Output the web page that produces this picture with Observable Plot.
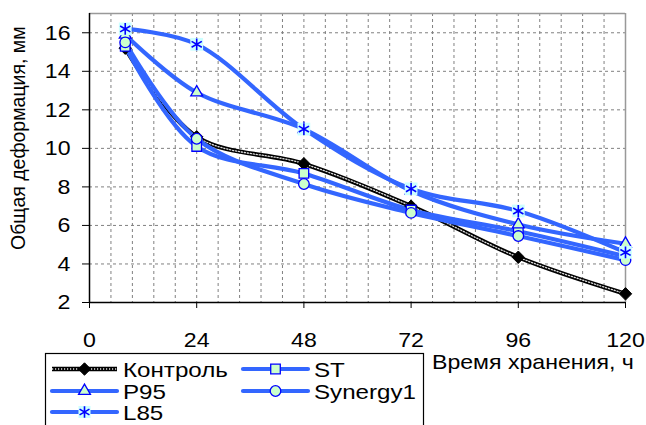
<!DOCTYPE html>
<html>
<head>
<meta charset="utf-8">
<script src="https://cdn.jsdelivr.net/npm/d3@7"></script>
<script src="https://cdn.jsdelivr.net/npm/@observablehq/plot@0.6"></script>
<style>
  html, body { margin: 0; padding: 0; background: #fff; }
  #chart { width: 646px; height: 425px; overflow: hidden; }
</style>
</head>
<body>
<div id="chart"></div>
<script>
// ---- data ----
const hours = [8, 24, 48, 72, 96, 120];
const control = [15.2, 10.6, 9.2, 7.0, 4.35, 2.45];
const st = [15.3, 10.1, 8.7, 6.8, 5.7, 4.4];
const p95 = [15.9, 12.9, 11.0, 7.8, 6.05, 5.05];
const synergy1 = [15.5, 10.5, 8.15, 6.65, 5.45, 4.2];
const l85 = [16.2, 15.4, 11.0, 7.9, 6.75, 4.6];
const seriesNames = ["Контроль", "ST", "P95", "Synergy1", "L85"];
const xTicks = [0, 24, 48, 72, 96, 120];
const yTicks = [2, 4, 6, 8, 10, 12, 14, 16];
const xGrid = [4.8, 9.6, 14.4, 19.2, 24, 28.8, 33.6, 38.4, 43.2, 48, 52.8, 57.6, 62.4, 67.2, 72, 76.8, 81.6, 86.4, 91.2, 96, 100.8, 105.6, 110.4, 115.2];
const yGrid = [4, 6, 8, 10, 12, 14, 16];
const xTitle = "Время хранения, ч";
const yTitle = "Общая деформация, мм";

const valuesBySeries = {"Контроль": control, "ST": st, "P95": p95, "Synergy1": synergy1, "L85": l85};
const rows = seriesNames.flatMap(s => hours.map((h, i) => ({series: s, x: h, y: valuesBySeries[s][i]})));
const of = s => rows.filter(d => d.series === s);

const BLUE = "#3366ff";
const MK = "#0000ff";
const FILL = "#ccffcc";
const CYAN = "#ccffff";
const FONT = "'Liberation Sans', Arial, sans-serif";
const STRETCH = 1.15; // reference text is horizontally wide

const markerSpec = {
  "Контроль": {symbol: "diamond2", r: 5.6, fill: "black", stroke: "black", strokeWidth: 1},
  "ST": {symbol: "square", r: 5.4, fill: FILL, stroke: MK, strokeWidth: 1.3},
  "P95": {symbol: "triangle", r: 4.4, fill: FILL, stroke: MK, strokeWidth: 1.3},
  "Synergy1": {symbol: "circle", r: 5.3, fill: FILL, stroke: MK, strokeWidth: 1.3}
};

const lineMarks = [];
for (const s of seriesNames) {
  if (s === "Контроль") {
    lineMarks.push(Plot.line(of(s), {x: "x", y: "y", curve: "catmull-rom", stroke: "black", strokeWidth: 4.5}));
    lineMarks.push(Plot.line(of(s), {x: "x", y: "y", curve: "catmull-rom", stroke: "#ddd", strokeWidth: 1.3, strokeDasharray: "1.2,1.8"}));
  } else {
    lineMarks.push(Plot.line(of(s), {x: "x", y: "y", curve: "catmull-rom", stroke: BLUE, strokeWidth: 4.2}));
  }
}
const dotMarks = [];
for (const s of seriesNames) {
  if (s === "L85") {
    dotMarks.push(Plot.dot(of(s), {x: "x", y: "y", symbol: "square", r: 7.2, fill: CYAN, stroke: "none"}));
    dotMarks.push(Plot.dot(of(s), {x: "x", y: "y", symbol: "asterisk", r: 5.6, stroke: MK, strokeWidth: 1.6, fill: "none"}));
  } else {
    const m = markerSpec[s];
    dotMarks.push(Plot.dot(of(s), {x: "x", y: "y", symbol: m.symbol, r: m.r, fill: m.fill, stroke: m.stroke, strokeWidth: m.strokeWidth}));
  }
}

const svg = Plot.plot({
  width: 646,
  height: 425,
  marginLeft: 89,
  marginRight: 21,
  marginTop: 13,
  marginBottom: 123,
  style: {fontFamily: FONT, background: "white", color: "black", overflow: "visible"},
  x: {domain: [0, 120]},
  y: {domain: [2, 17]},
  marks: [
    Plot.ruleY(yGrid, {stroke: "#808080", strokeWidth: 1, strokeDasharray: "3,3"}),
    Plot.ruleX(xGrid, {stroke: "#808080", strokeWidth: 1, strokeDasharray: "3,3"}),
    Plot.ruleY([17], {stroke: "#999", strokeWidth: 1.5}),
    Plot.ruleX([120], {stroke: "#999", strokeWidth: 1.5}),
    Plot.axisY({ticks: yTicks, tickSize: 7, tickPadding: 12, fontSize: 21, label: null, tickFormat: d => String(d)}),
    Plot.axisX({ticks: xTicks, tickSize: 6, tickPadding: 24, fontSize: 21, label: null, tickFormat: d => String(d)}),
    Plot.ruleX([0], {stroke: "black", strokeWidth: 1.5}),
    Plot.ruleY([2], {stroke: "black", strokeWidth: 1.5}),
    ...lineMarks,
    ...dotMarks
  ]
});

const root = d3.select(svg);
// axis titles
root.append("text")
  .attr("class", "xtitle")
  .attr("x", 432).attr("y", 369)
  .attr("text-anchor", "start")
  .attr("font-family", FONT).attr("font-size", 21).attr("fill", "black")
  .text(xTitle);
root.append("text")
  .attr("transform", "translate(25,250) rotate(-90)")
  .attr("font-family", FONT).attr("font-size", 19.5).attr("fill", "black")
  .attr("text-anchor", "start")
  .text(yTitle);

// legend
const lg = root.append("g").attr("text-anchor", "start");
lg.append("rect").attr("x", 45.5).attr("y", 353.5).attr("width", 378).attr("height", 90)
  .attr("fill", "white").attr("stroke", "black").attr("stroke-width", 1.2);
const legendPos = {
  "Контроль": [52, 369], "ST": [243, 369],
  "P95": [52, 391], "Synergy1": [243, 391],
  "L85": [52, 412]
};
const sym = {square: d3.symbolSquare, triangle: d3.symbolTriangle, circle: d3.symbolCircle, diamond2: d3.symbolDiamond2, asterisk: d3.symbolAsterisk};
for (const s of seriesNames) {
  const [x0, y0] = legendPos[s];
  const g = lg.append("g");
  if (s === "Контроль") {
    g.append("line").attr("x1", x0).attr("x2", x0 + 65).attr("y1", y0).attr("y2", y0).attr("stroke", "black").attr("stroke-width", 4.5);
    g.append("line").attr("x1", x0).attr("x2", x0 + 65).attr("y1", y0).attr("y2", y0).attr("stroke", "#ddd").attr("stroke-width", 1.3).attr("stroke-dasharray", "1.2,1.8");
  } else {
    g.append("line").attr("x1", x0).attr("x2", x0 + 65).attr("y1", y0).attr("y2", y0).attr("stroke", BLUE).attr("stroke-width", 4.2).attr("stroke-linecap", "round");
  }
  const cx = x0 + 32.5;
  if (s === "L85") {
    g.append("path").attr("d", d3.symbol(d3.symbolSquare, Math.PI * 6.8 * 6.8)()).attr("transform", `translate(${cx},${y0})`).attr("fill", CYAN);
    g.append("path").attr("d", d3.symbol(d3.symbolAsterisk, Math.PI * 5.4 * 5.4)()).attr("transform", `translate(${cx},${y0})`).attr("fill", "none").attr("stroke", MK).attr("stroke-width", 1.6);
  } else {
    const m = markerSpec[s];
    g.append("path").attr("d", d3.symbol(sym[m.symbol], Math.PI * m.r * m.r)()).attr("transform", `translate(${cx},${y0})`)
      .attr("fill", m.fill).attr("stroke", m.stroke).attr("stroke-width", m.strokeWidth);
  }
  g.append("text").attr("class", "stretch").attr("x", x0 + 71).attr("y", y0 + 8).attr("text-anchor", "start")
    .attr("font-family", FONT).attr("font-size", 21).attr("fill", "black").text(s);
}

document.getElementById("chart").appendChild(svg);

// widen texts horizontally like the reference
function widen(sel, k) {
  sel.each(function () {
    const w = this.getComputedTextLength();
    if (w > 0) { this.setAttribute("textLength", (w * k).toFixed(1)); this.setAttribute("lengthAdjust", "spacingAndGlyphs"); }
  });
}
widen(root.selectAll("text.stretch"), STRETCH);
widen(root.selectAll("text.xtitle"), 1.1);
widen(root.selectAll("g[aria-label='y-axis tick label'] text"), 1.1);
widen(root.selectAll("g[aria-label='x-axis tick label'] text"), 1.1);
</script>
</body>
</html>
